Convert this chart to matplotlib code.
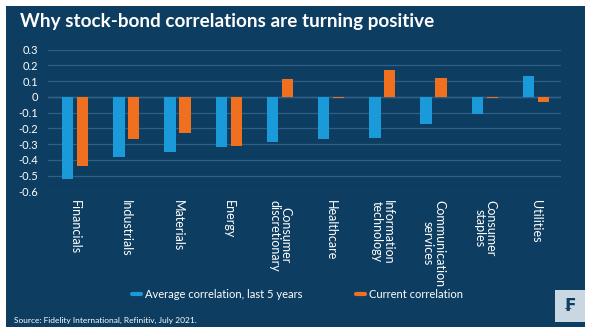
import matplotlib.pyplot as plt
import matplotlib.patches as mpatches
from matplotlib.lines import Line2D
import numpy as np

plt.rcParams['font.family'] = ['Lato', 'DejaVu Sans']

sectors = ['Financials', 'Industrials', 'Materials', 'Energy', 'Consumer\ndiscretionary',
           'Healthcare', 'Information\ntechnology', 'Communication\nservices',
           'Consumer\nstaples', 'Utilities']
avg_5y = [-0.52, -0.38, -0.35, -0.32, -0.29, -0.27, -0.26, -0.17, -0.11, 0.13]
current = [-0.44, -0.27, -0.23, -0.31, 0.11, -0.005, 0.17, 0.12, -0.005, -0.035]
yticks = [0.3, 0.2, 0.1, 0, -0.1, -0.2, -0.3, -0.4, -0.5, -0.6]

NAVY = '#0d3d61'
BLUE = '#1a9ad8'
ORANGE = '#f0701f'
GRID = '#2f5f85'

fig = plt.figure(figsize=(5.94, 3.32), dpi=100)
fig.patch.set_facecolor('white')
# navy panel behind everything
fig.patches.append(mpatches.Rectangle((6 / 594, (332 - 327) / 332), 579 / 594, 321 / 332,
                                      transform=fig.transFigure, facecolor=NAVY,
                                      edgecolor='none', zorder=0))

ax = fig.add_axes([48 / 594, (332 - 191.3) / 332, 513 / 594, 141.8 / 332])
ax.set_facecolor('none')
ax.set_zorder(1)

x = np.arange(len(sectors))
w = 0.22
ax.bar(x - 0.145, avg_5y, w, color=BLUE, zorder=3)
ax.bar(x + 0.145, current, w, color=ORANGE, zorder=3)

ax.set_ylim(-0.6, 0.3)
ax.set_xlim(-0.53, 9.49)
ax.set_yticks(yticks)
ax.set_yticklabels([f'{v:g}' for v in yticks])
ax.yaxis.grid(True, color=GRID, linewidth=0.9, zorder=0)
ax.axhline(0, color='#3d6d93', linewidth=1.0, zorder=1)
for s in ax.spines.values():
    s.set_visible(False)

ax.set_xticks(x)
ax.set_xticklabels(sectors, rotation=270, ha='center', va='top',
                   fontsize=9, color='white', linespacing=0.9)
ax.tick_params(axis='x', length=0, pad=6)
ax.tick_params(axis='y', length=0, pad=7, labelsize=8, labelcolor='white')

fig.text(20 / 594, 1 - 22 / 332, 'Why stock-bond correlations are turning positive',
         color='white', fontsize=13.6, fontweight='bold', va='center', ha='left')

handles = [Line2D([], [], color=BLUE, linewidth=3, solid_capstyle='round'),
           Line2D([], [], color=ORANGE, linewidth=3, solid_capstyle='round')]
fig.legend(handles, ['Average correlation, last 5 years', 'Current correlation'],
           loc='center', bbox_to_anchor=(297.5 / 594, 1 - 294 / 332), ncol=2,
           frameon=False, fontsize=8, labelcolor='white', handlelength=0.8,
           handletextpad=0.4, columnspacing=4.8)

fig.text(14 / 594, 1 - 320 / 332, 'Source: Fidelity International, Refinitiv, July 2021.',
         color='white', fontsize=6, va='center', ha='left')

# logo badge
fig.patches.append(mpatches.Rectangle((555 / 594, (332 - 322) / 332), 30 / 594, 32 / 332,
                                      transform=fig.transFigure, facecolor='#c9d7e3',
                                      edgecolor='none', zorder=2))
fig.text(570 / 594, 1 - 306 / 332, '₣', color=NAVY, fontsize=12, fontweight='bold',
         ha='center', va='center', family='DejaVu Sans', zorder=3)

fig.savefig('out.png', dpi=100, facecolor=fig.get_facecolor())
